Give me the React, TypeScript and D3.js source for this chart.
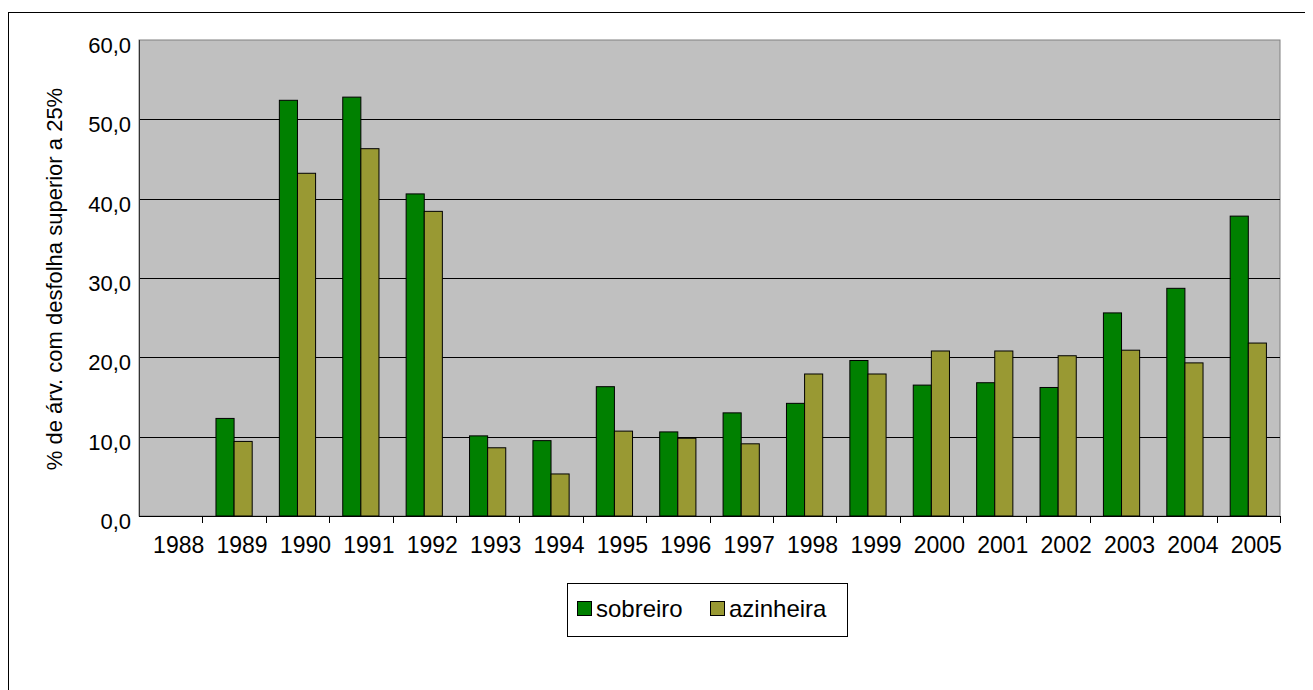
import React, { useEffect, useRef } from 'react'
import * as d3 from 'd3'

const years = ['1988', '1989', '1990', '1991', '1992', '1993', '1994', '1995', '1996', '1997', '1998', '1999', '2000', '2001', '2002', '2003', '2004', '2005']
const sobreiro = [null, 12.3, 52.4, 52.8, 40.6, 10.1, 9.5, 16.3, 10.6, 13.0, 14.2, 19.6, 16.5, 16.8, 16.2, 25.6, 28.7, 37.8]
const azinheira = [null, 9.4, 43.2, 46.3, 38.4, 8.6, 5.3, 10.7, 9.8, 9.1, 17.9, 17.9, 20.8, 20.8, 20.2, 20.9, 19.3, 21.8]
const seriesNames = ['sobreiro', 'azinheira']
const colors = ['#008000', '#999933']
const yTicks = [0, 10, 20, 30, 40, 50, 60]
const yTitle = '% de árv. com desfolha superior a 25%'

const W = 1305
const H = 682
const FONT = 'Arial, "Liberation Sans", sans-serif'

export default function App() {
    const ref = useRef(null)

    useEffect(() => {
        const svg = d3.select(ref.current)
        svg.selectAll('*').remove()

        // plot area (svg coords, page - 8)
        const left = 131, top = 32, right = 1272, bottom = 508

        // outer chart border, runs off the page on right/bottom
        svg.append('rect')
            .attr('x', 0.5).attr('y', 4.5)
            .attr('width', 1400).attr('height', 800)
            .attr('fill', '#fff')
            .attr('stroke', '#000')

        const x = d3.scaleBand().domain(years).range([left, right]).padding(0)
        const y = d3.scaleLinear().domain([0, 60]).range([bottom, top])

        svg.append('rect')
            .attr('x', left).attr('y', top)
            .attr('width', right - left).attr('height', bottom - top)
            .attr('fill', '#c0c0c0')
            .attr('stroke', '#808080')

        // gridlines
        svg.append('g').selectAll('line')
            .data(yTicks.filter(d => d > 0 && d < 60))
            .enter().append('line')
            .attr('x1', left).attr('x2', right)
            .attr('y1', d => Math.round(y(d)) + 0.5)
            .attr('y2', d => Math.round(y(d)) + 0.5)
            .attr('stroke', '#000')

        // bars, excel style gap width 150%
        const bw = x.bandwidth() / 3.5
        const inner = d3.scaleBand().domain(seriesNames).range([0, bw * 2])
        const series = [sobreiro, azinheira]
        series.forEach((vals, si) => {
            const data = years.map((yr, i) => ({ yr, v: vals[i] })).filter(d => d.v != null)
            svg.append('g').selectAll('rect')
                .data(data)
                .enter().append('rect')
                .attr('x', d => x(d.yr) + bw * 0.75 + inner(seriesNames[si]))
                .attr('y', d => y(d.v))
                .attr('width', inner.bandwidth())
                .attr('height', d => bottom - y(d.v))
                .attr('fill', colors[si])
                .attr('stroke', '#000')
                .attr('stroke-width', 1)
        })

        // axes lines
        svg.append('line')
            .attr('x1', left + 0.5).attr('x2', left + 0.5)
            .attr('y1', top).attr('y2', bottom)
            .attr('stroke', '#333')
        svg.append('line')
            .attr('x1', left).attr('x2', right + 1)
            .attr('y1', bottom + 0.5).attr('y2', bottom + 0.5)
            .attr('stroke', '#000')

        // x ticks at category boundaries
        svg.append('g').selectAll('line')
            .data(years)
            .enter().append('line')
            .attr('x1', d => Math.round(x(d) + x.bandwidth()) + 0.5)
            .attr('x2', d => Math.round(x(d) + x.bandwidth()) + 0.5)
            .attr('y1', bottom).attr('y2', bottom + 7)
            .attr('stroke', '#000')

        svg.append('g').selectAll('text')
            .data(years)
            .enter().append('text')
            .attr('x', d => x(d) + x.bandwidth() / 2 + 8)
            .attr('y', bottom + 37)
            .attr('text-anchor', 'middle')
            .attr('font-family', FONT)
            .attr('font-size', 23)
            .text(d => d)

        // y labels
        svg.append('g').selectAll('text')
            .data(yTicks)
            .enter().append('text')
            .attr('x', left - 8)
            .attr('y', d => y(d) + 13)
            .attr('text-anchor', 'end')
            .attr('font-family', FONT)
            .attr('font-size', 22)
            .text(d => d3.format('.1f')(d).replace('.', ','))

        svg.append('text')
            .attr('transform', 'translate(54,271) rotate(-90)')
            .attr('text-anchor', 'middle')
            .attr('font-family', FONT)
            .attr('font-size', 22)
            .text(yTitle)

        // legend
        const lg = svg.append('g').attr('transform', 'translate(559,575)')
        lg.append('rect')
            .attr('x', 0.5).attr('y', 0.5)
            .attr('width', 280).attr('height', 53)
            .attr('fill', '#fff').attr('stroke', '#000')
        const offs = [10, 143]
        seriesNames.forEach((name, i) => {
            lg.append('rect')
                .attr('x', offs[i] + 0.5).attr('y', 18.5)
                .attr('width', 14).attr('height', 14)
                .attr('fill', colors[i]).attr('stroke', '#000')
            lg.append('text')
                .attr('x', offs[i] + 19).attr('y', 34)
                .attr('font-family', FONT)
                .attr('font-size', 24)
                .text(name)
        })
    }, [])

    return <svg ref={ref} width={W} height={H} style={{ display: 'block' }} />
}
